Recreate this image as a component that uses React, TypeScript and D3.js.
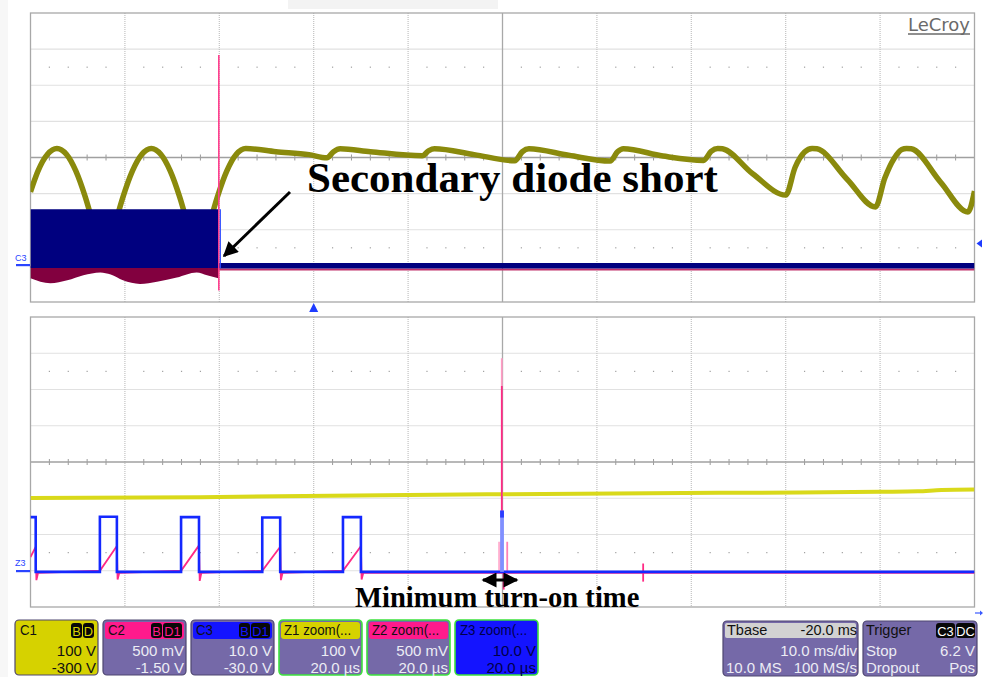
import React from 'react';
import * as d3 from 'd3';

const W = 983;
const H = 677;

// ---------------- DATA ----------------
// Upper window: 10 ms/div, time in ms relative to trigger
// C1 (100 V/div, offset -300 V): bulk / rectified voltage [t ms, V]
const c1Top: [number, number][] = [
  [-30.0, 205], [-29.2, 263], [-28.2, 309], [-27.2, 325], [-26.2, 309], [-25.2, 263], [-24.2, 191], [-23.2, 100], [-22.2, 5],
  [-21.2, 100], [-20.2, 191], [-19.2, 263], [-18.2, 309], [-17.2, 325], [-16.2, 309], [-15.2, 263], [-14.2, 191], [-13.2, 100], [-12.2, 5],
  [-11.2, 100], [-10.2, 191], [-9.2, 263], [-8.2, 309], [-7.2, 325],
  [-4.0, 316], [-0.5, 308], [1.4, 299], [2.1, 316], [2.8, 324],
  [6.0, 316], [11.5, 305], [12.2, 319], [12.8, 324],
  [17.0, 308], [21.3, 291], [22.1, 316], [22.8, 324],
  [27.0, 306], [31.4, 290], [32.2, 316], [32.8, 324],
  [37.0, 304], [41.3, 292], [42.1, 317], [42.8, 325], [43.3, 324],
  [46.5, 255], [50.0, 196], [51.0, 273], [52.0, 315], [52.8, 325], [53.3, 324],
  [56.5, 240], [59.5, 163], [60.5, 243], [61.5, 298], [62.3, 322], [62.8, 325], [63.3, 324],
  [66.4, 232], [69.3, 149], [70.0, 207],
];
// C2 (500 mV/div, offset -1.5 V): lower envelope before the short [t ms, V]
const c2TopLow: [number, number][] = [
  [-30.0, -0.17], [-27.9, -0.24], [-26.1, -0.2], [-24.4, -0.13], [-22.6, -0.09], [-21.5, -0.12],
  [-20.2, -0.2], [-18.4, -0.25], [-16.6, -0.22], [-14.5, -0.16], [-12.4, -0.09], [-11.3, -0.13], [-10.1, -0.17],
];
const c2TopAfter: [number, number][] = [[-10.05, -0.05], [70, -0.05]];
const c2TopSpike = [-10.05, -0.34, 2.92]; // t, min, max
// C3 (10 V/div, offset -30 V): switching burst envelope [t ms, min V, max V]
const c3TopBurst: [number, number, number][] = [[-30, -0.6, 15.7], [-10.05, -0.6, 15.7]];
const c3TopAfter: [number, number][] = [[-10.05, 0.05], [70, 0.05]];
const c3TrigLevel = 6.2;

// Lower window (zoom): 20 us/div, time in us
const z1Bottom: [number, number][] = [
  [-100, 201], [-64, 203], [-36.5, 207], [-0.5, 211], [31, 214], [63, 216], [80, 218], [88, 219], [93, 223], [100, 224],
];
const z3Rise = [-85.3, -68.1, -50.9, -33.8];
const z3Fall = [-98.9, -81.7, -64.3, -47.1, -30.0];
const z3High = [14.8, 14.9, 14.8, 14.7, 14.8];
const z3Base = -0.3;
const z3Spike = [-0.5, 0.3, 16.6]; // t0, t1, top V
const z2RampStart = 0.0;
const z2RampPeak = [0.33, 0.34, 0.35, 0.33, 0.34];
const z2Under = [-0.13, -0.12, -0.14, -0.13, -0.12];
const z2Base = -0.03;
const z2Spikes: [number, number, number, string][] = [
  [-0.15, 2.55, 2.93, '#ff9cc4'],
  [-0.15, -0.02, 2.55, '#ff2a85'],
  [0.25, -0.26, 0.0, '#ff2a85'],
  [1.0, -0.2, 0.4, '#ff80b4'],
  [29.8, -0.15, 0.1, '#ff2a85'],
];

// Info bar texts
const chanHeader = ['C1', 'C2', 'C3', 'Z1 zoom(...', 'Z2 zoom(...', 'Z3 zoom(...'];
const chanBadges = [['B', 'D'], ['B', 'D1'], ['B', 'D1'], [], [], []];
const chanScale = ['100 V', '500 mV', '10.0 V', '100 V', '500 mV', '10.0 V'];
const chanOffset = ['-300 V', '-1.50 V', '-30.0 V', '20.0 µs', '20.0 µs', '20.0 µs'];
const chanColor = ['#d6d200', '#ff1a8c', '#1414ff', '#d6d200', '#ff1a8c', '#1414ff'];
const tbaseTexts = ['Tbase', '-20.0 ms', '10.0 ms/div', '10.0 MS', '100 MS/s'];
const trigTexts = ['Trigger', 'Stop', '6.2 V', 'Dropout', 'Pos'];
const trigBadges = ['C3', 'DC'];

// ---------------- LAYOUT ----------------
const TOP = { x0: 30.5, x1: 974.5, y0: 13, y1: 302 };
const BOT = { x0: 30.5, x1: 974.5, y0: 317, y1: 607 };

const xTop = d3.scaleLinear().domain([-30, 70]).range([TOP.x0, TOP.x1]);
const yTopC1 = d3.scaleLinear().domain([-100, 700]).range([TOP.y1, TOP.y0]);
const yTopC2 = d3.scaleLinear().domain([-0.5, 3.5]).range([TOP.y1, TOP.y0]);
const yTopC3 = d3.scaleLinear().domain([-10, 70]).range([TOP.y1, TOP.y0]);

const xBot = d3.scaleLinear().domain([-100, 100]).range([BOT.x0, BOT.x1]);
const yBotZ1 = d3.scaleLinear().domain([-100, 700]).range([BOT.y1, BOT.y0]);
const yBotZ2 = d3.scaleLinear().domain([-0.5, 3.5]).range([BOT.y1, BOT.y0]);
const yBotZ3 = d3.scaleLinear().domain([-10, 70]).range([BOT.y1, BOT.y0]);

const SANS = "'Liberation Sans', Arial, sans-serif";
const SERIF = "'Liberation Serif', 'Times New Roman', serif";
const PURPLE = '#7569a8';
const BODYTXT = '#ececf4';

type P = { x0: number; x1: number; y0: number; y1: number };

function Grid({ p }: { p: P }) {
  const dx = (p.x1 - p.x0) / 10;
  const dy = (p.y1 - p.y0) / 8;
  const cx = p.x0 + 5 * dx;
  const cy = p.y0 + 4 * dy;
  const els: React.ReactNode[] = [];
  for (let i = 1; i < 10; i++) {
    if (i === 5) continue;
    const x = p.x0 + i * dx;
    els.push(<line key={'v' + i} x1={x} x2={x} y1={p.y0} y2={p.y1} stroke="#c2c2c2" strokeDasharray="1 1" strokeWidth={1.2} />);
  }
  for (let j = 1; j < 8; j++) {
    if (j === 4) continue;
    const y = p.y0 + j * dy;
    els.push(<line key={'h' + j} x1={p.x0} x2={p.x1} y1={y} y2={y} stroke="#c2c2c2" strokeDasharray="1 1" strokeWidth={1.2} />);
  }
  for (let k = 1; k < 50; k++) {
    if (k % 5 === 0) continue;
    const x = p.x0 + (k * dx) / 5;
    els.push(<line key={'t' + k} x1={x} x2={x} y1={cy - 3} y2={cy + 3} stroke="#9a9a9a" strokeWidth={1} />);
    els.push(<rect key={'da' + k} x={x - 0.6} y={cy - 2.5 * dy - 0.6} width={1.2} height={1.2} fill="#a0a0a0" />);
    els.push(<rect key={'db' + k} x={x - 0.6} y={cy + 2.5 * dy - 0.6} width={1.2} height={1.2} fill="#a0a0a0" />);
  }
  els.push(<line key="cx" x1={cx} x2={cx} y1={p.y0} y2={p.y1} stroke="#a8a8a8" strokeWidth={1.3} />);
  els.push(<line key="cy" x1={p.x0} x2={p.x1} y1={cy} y2={cy} stroke="#a0a0a0" strokeWidth={1.3} />);
  els.push(<rect key="fr" x={p.x0} y={p.y0} width={p.x1 - p.x0} height={p.y1 - p.y0} fill="none" stroke="#a8a8a8" strokeWidth={1.3} />);
  return <g>{els}</g>;
}

function SText({ x, y, children, anchor = 'start', size = 15, sx = 1, fill = BODYTXT }: any) {
  return (
    <text transform={`translate(${x},${y}) scale(${sx},1)`} textAnchor={anchor} fontFamily={SANS} fontSize={size} fill={fill}>
      {children}
    </text>
  );
}

function Badges({ right, y, items, color }: { right: number; y: number; items: string[]; color: string }) {
  const widths = items.map((s) => (s.length > 1 ? 20 : 12));
  let x = right;
  const out: React.ReactNode[] = [];
  for (let i = items.length - 1; i >= 0; i--) {
    x -= widths[i];
    out.push(
      <g key={i}>
        <rect x={x} y={y} width={widths[i] - 1} height={15} rx={3} fill="#080808" />
        <SText x={x + (widths[i] - 1) / 2} y={y + 12.5} anchor="middle" size={13.5} sx={0.95} fill={color}>{items[i]}</SText>
      </g>
    );
  }
  return <g>{out}</g>;
}

function ChannelBox({ i }: { i: number }) {
  const x = 15 + i * 88;
  const w = 83;
  const y = 620;
  const h = 55;
  const isC1 = i === 0;
  const isZ = i >= 3;
  const isZ3 = i === 5;
  const fill = isC1 ? chanColor[0] : isZ3 ? chanColor[5] : PURPLE;
  const border = isZ ? '#3ee23e' : '#4e4670';
  const txt = isC1 ? '#111' : isZ3 ? '#00004a' : BODYTXT;
  return (
    <g>
      <rect x={x} y={y} width={w} height={h} rx={4} fill={fill} stroke={border} strokeWidth={isZ ? 1.6 : 1.2} />
      {!isC1 && !isZ3 && <rect x={x + 2} y={y + 2} width={w - 4} height={17} rx={3} fill={chanColor[i]} />}
      <SText x={x + 5} y={y + 15} size={14} sx={0.95} fill={isZ3 ? '#00004a' : '#111'}>{chanHeader[i]}</SText>
      {chanBadges[i].length > 0 && <Badges right={x + w - 3} y={y + 3} items={chanBadges[i]} color={isC1 ? chanColor[0] : chanColor[i]} />}
      <SText x={x + w - 2} y={y + 36} anchor="end" fill={txt}>{chanScale[i]}</SText>
      <SText x={x + w - 2} y={y + 53} anchor="end" fill={txt}>{chanOffset[i]}</SText>
    </g>
  );
}

export default function App() {
  const c1Line = d3.line<[number, number]>().x((d) => xTop(d[0])).y((d) => yTopC1(d[1])).curve(d3.curveMonotoneX);
  const c2Area = d3.area<[number, number]>().x((d) => xTop(d[0])).y0((d) => yTopC2(d[1])).y1(() => yTopC2(0)).curve(d3.curveMonotoneX);
  const c3Area = d3.area<[number, number, number]>().x((d) => xTop(d[0])).y0((d) => yTopC3(d[1])).y1((d) => yTopC3(d[2]));
  const c2Flat = d3.line<[number, number]>().x((d) => xTop(d[0])).y((d) => yTopC2(d[1]));
  const c3Flat = d3.line<[number, number]>().x((d) => xTop(d[0])).y((d) => yTopC3(d[1]));

  const z1Line = d3.line<[number, number]>().x((d) => xBot(d[0])).y((d) => yBotZ1(d[1])).curve(d3.curveMonotoneX);

  // Z3 pulse train built from rise/fall tables
  const z3Pts: [number, number][] = [[-100, z3High[0]], [z3Fall[0], z3High[0]], [z3Fall[0], z3Base]];
  z3Rise.forEach((r, i) => {
    z3Pts.push([r, z3Base], [r, z3High[i + 1]], [z3Fall[i + 1], z3High[i + 1]], [z3Fall[i + 1], z3Base]);
  });
  z3Pts.push([100, z3Base]);
  const z3Line = d3.line<[number, number]>().x((d) => xBot(d[0])).y((d) => yBotZ3(d[1]));

  // Z2 current ramps
  const z2Pts: [number, number][] = [[-100, 0.19], [z3Fall[0], z2RampPeak[0]], [z3Fall[0] + 0.15, z2Under[0]], [z3Fall[0] + 0.5, z2Base]];
  z3Rise.forEach((r, i) => {
    const f = z3Fall[i + 1];
    z2Pts.push([r, z2RampStart], [f, z2RampPeak[i + 1]], [f + 0.15, z2Under[i + 1]], [f + 0.5, z2Base]);
  });
  z2Pts.push([100, z2Base]);
  const z2Line = d3.line<[number, number]>().x((d) => xBot(d[0])).y((d) => yBotZ2(d[1]));

  const trigX = xTop(0);
  const trigY = yTopC3(c3TrigLevel);

  return (
    <div style={{ position: 'fixed', left: 0, top: 0, width: W, height: H, background: '#fff' }}>
      <svg width={W} height={H} viewBox={`0 0 ${W} ${H}`} style={{ display: 'block' }}>
        <defs>
          <marker id="ah" viewBox="0 0 10 10" refX={9} refY={5} markerWidth={6} markerHeight={5} orient="auto-start-reverse" markerUnits="strokeWidth">
            <path d="M0,0 L10,5 L0,10 z" fill="#000" />
          </marker>
          <clipPath id="clipTop"><rect x={TOP.x0} y={TOP.y0} width={TOP.x1 - TOP.x0} height={TOP.y1 - TOP.y0} /></clipPath>
          <clipPath id="clipBot"><rect x={BOT.x0} y={BOT.y0} width={BOT.x1 - BOT.x0} height={BOT.y1 - BOT.y0} /></clipPath>
        </defs>
        <rect x={0} y={0} width={W} height={H} fill="#fff" />
        <rect x={0} y={0} width={8} height={H} fill="#f7f7f7" />
        <rect x={288} y={0} width={210} height={9} fill="#f3f3f3" />

        {/* ------- upper window ------- */}
        <Grid p={TOP} />
        <g clipPath="url(#clipTop)">
          <path d={c1Line(c1Top) || ''} fill="none" stroke="#8a8a0c" strokeWidth={5.5} strokeLinejoin="round" />
          <path d={c2Area(c2TopLow) || ''} fill="#82003f" />
          <path d={c2Flat(c2TopAfter) || ''} fill="none" stroke="#c0306a" strokeWidth={2} />
          <path d={c3Area(c3TopBurst) || ''} fill="#00007f" />
          <path d={c3Flat(c3TopAfter) || ''} fill="none" stroke="#00007f" strokeWidth={5.5} />
          <line x1={xTop(c2TopSpike[0])} x2={xTop(c2TopSpike[0])} y1={yTopC2(c2TopSpike[1])} y2={yTopC2(c2TopSpike[2])} stroke="#ff3c8c" strokeWidth={1.6} />
          <line x1={xTop(c2TopSpike[0]) + 1.5} x2={xTop(c2TopSpike[0]) + 1.5} y1={yTopC3(c3TopBurst[1][1])} y2={yTopC3(c3TopBurst[1][2])} stroke="#2f4dff" strokeWidth={1.2} />
        </g>
        <text x={908} y={31} fontFamily="'DejaVu Sans', Verdana, sans-serif" fontSize={17} fill="#6a6a6a" textLength={62} lengthAdjust="spacingAndGlyphs">LeCroy</text>
        <line x1={908} x2={970} y1={34} y2={34} stroke="#6a6a6a" strokeWidth={1.3} />
        {/* C3 ground marker */}
        <text x={15} y={261} fontFamily={SANS} fontSize={9} fill="#2a44ff">C3</text>
        <rect x={16} y={264} width={14} height={2.2} fill="#2a44ff" />
        {/* trigger markers */}
        <path d={`M${trigX - 4.5},${TOP.y1 + 10} L${trigX + 4.5},${TOP.y1 + 10} L${trigX},${TOP.y1 + 1} z`} fill="#1f3cff" />
        <path d={`M${W - 1},${trigY - 4} L${W - 1},${trigY + 4} L${TOP.x1 + 2},${trigY} z`} fill="#1f3cff" />

        {/* annotation */}
        <text x={307} y={192} fontFamily={SERIF} fontWeight="bold" fontSize={43} fill="#000">Secondary diode short</text>
        <line x1={290} y1={192} x2={224} y2={256} stroke="#000" strokeWidth={3} markerEnd="url(#ah)" />

        {/* ------- lower window ------- */}
        <Grid p={BOT} />
        <g clipPath="url(#clipBot)">
          <path d={z1Line(z1Bottom) || ''} fill="none" stroke="#d9d91a" strokeWidth={4} />
          <path d={z2Line(z2Pts) || ''} fill="none" stroke="#ff2a85" strokeWidth={1.8} />
          <rect x={xBot(z3Spike[0]) - 2} y={yBotZ2(0.4)} width={xBot(z3Spike[1]) - xBot(z3Spike[0]) + 1} height={yBotZ2(0) - yBotZ2(0.4)} fill="#ffb0d0" />
          {z2Spikes.map((s, i) => (
            <line key={i} x1={xBot(s[0])} x2={xBot(s[0])} y1={yBotZ2(s[1])} y2={yBotZ2(s[2])} stroke={s[3]} strokeWidth={1.8} />
          ))}
          <path d={z3Line(z3Pts) || ''} fill="none" stroke="#1428ff" strokeWidth={2.6} />
          <rect x={xBot(z3Spike[0])} y={yBotZ3(z3Spike[2])} width={xBot(z3Spike[1]) - xBot(z3Spike[0])} height={yBotZ3(z3Base) - yBotZ3(z3Spike[2])} fill="#8090ff" />
          <rect x={xBot(z3Spike[0])} y={yBotZ3(z3Spike[2])} width={xBot(z3Spike[1]) - xBot(z3Spike[0])} height={7} fill="#2a3cff" />
        </g>
        <text x={15} y={566} fontFamily={SANS} fontSize={9} fill="#2a44ff">Z3</text>
        <rect x={16} y={570} width={14} height={2.2} fill="#2a44ff" />
        <path d={`M975,613 L980,613`} stroke="#3a5aff" strokeWidth={1.2} />
        <path d={`M980,610.5 L983,613 L980,615.5 z`} fill="#3a5aff" />

        {/* annotation */}
        <line x1={483} y1={580} x2={517} y2={580} stroke="#000" strokeWidth={3} markerStart="url(#ah)" markerEnd="url(#ah)" />
        <text x={355} y={607} fontFamily={SERIF} fontWeight="bold" fontSize={28.6} fill="#000">Minimum turn-on time</text>

        {/* ------- info bar ------- */}
        {chanHeader.map((_, i) => <ChannelBox key={i} i={i} />)}

        <g>
          <rect x={723} y={621} width={135} height={55} rx={4} fill={PURPLE} stroke="#4e4670" strokeWidth={1.2} />
          <rect x={725} y={623} width={131} height={15} rx={2} fill="#d2d2d2" />
          <SText x={727} y={635} size={14.5} fill="#111">{tbaseTexts[0]}</SText>
          <SText x={857} y={635} anchor="end" size={14.5} fill="#111">{tbaseTexts[1]}</SText>
          <SText x={857} y={656} anchor="end">{tbaseTexts[2]}</SText>
          <SText x={726} y={673}>{tbaseTexts[3]}</SText>
          <SText x={857} y={673} anchor="end">{tbaseTexts[4]}</SText>
        </g>
        <g>
          <rect x={863} y={621} width={114} height={55} rx={4} fill={PURPLE} stroke="#4e4670" strokeWidth={1.2} />
          <SText x={866} y={635} size={14.5} fill="#111">{trigTexts[0]}</SText>
          <Badges right={976} y={623} items={trigBadges} color="#fff" />
          <SText x={866} y={656}>{trigTexts[1]}</SText>
          <SText x={975} y={656} anchor="end">{trigTexts[2]}</SText>
          <SText x={866} y={673}>{trigTexts[3]}</SText>
          <SText x={975} y={673} anchor="end">{trigTexts[4]}</SText>
        </g>
      </svg>
    </div>
  );
}
